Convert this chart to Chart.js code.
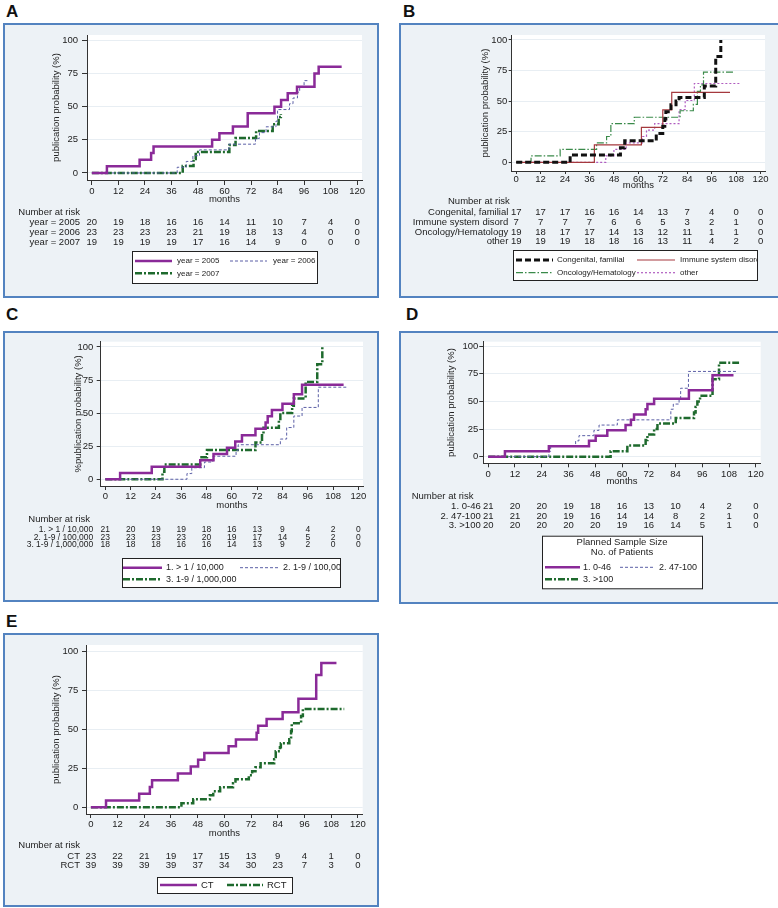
<!DOCTYPE html>
<html>
<head>
<meta charset="utf-8">
<script src="https://cdn.jsdelivr.net/npm/chart.js@4.4.1/dist/chart.umd.min.js"></script>
<style>
  html, body { margin: 0; padding: 0; background: #fff; overflow: hidden; }
  body { width: 778px; height: 908px; position: relative; font-family: "Liberation Sans", Arial, sans-serif; }
  .tag { position: absolute; font-weight: bold; font-size: 17px; line-height: 17px; color: #111; }
  canvas { position: absolute; }
</style>
</head>
<body>
<div class="tag" style="left:6px;top:3px">A</div>
<div class="tag" style="left:403px;top:3px">B</div>
<div class="tag" style="left:6px;top:306px">C</div>
<div class="tag" style="left:406px;top:306px">D</div>
<div class="tag" style="left:6px;top:613px">E</div>

<canvas id="chartA" width="376" height="275" style="left:3px;top:23px"></canvas>
<canvas id="chartB" width="382" height="275" style="left:399px;top:23px"></canvas>
<canvas id="chartC" width="376" height="271" style="left:3px;top:331px"></canvas>
<canvas id="chartD" width="382" height="273" style="left:399px;top:331px"></canvas>
<canvas id="chartE" width="376" height="274" style="left:3px;top:633px"></canvas>

<script>
// axis ticks
const monthTicks = [0, 12, 24, 36, 48, 60, 72, 84, 96, 108, 120];
const probTicks = [0, 25, 50, 75, 100];

// A - year of study start
const namesA = ['year = 2005', 'year = 2006', 'year = 2007'];
const a2005T = [0, 6.8, 21.6, 26.8, 27.9, 54.4, 57.7, 63.8, 70.5, 82.6, 85.6, 88.6, 92.8, 100.7, 102.6, 113];
const a2005V = [0, 5, 10, 15, 20, 25, 30, 35, 45, 50, 55, 60, 65, 75, 80, 80];
const a2006T = [0, 38.6, 42.7, 45.7, 48.7, 62, 74, 75.8, 78.8, 83.3, 84, 89.4, 91, 93, 94, 96, 97.5];
const a2006V = [0, 4.3, 8.7, 13, 17.4, 21.7, 26.1, 30.4, 34.8, 39.1, 47.8, 52.2, 56.5, 60.9, 65.2, 69.6, 69.6];
const a2007T = [0, 41.1, 46, 47, 62.2, 65, 74.3, 81.8, 84.5, 85.5];
const a2007V = [0, 5.3, 10.5, 15.8, 21.1, 26.3, 31.6, 36.8, 42.1, 44.2];
const riskA2005 = [20, 19, 18, 16, 16, 14, 11, 10, 7, 4, 0];
const riskA2006 = [23, 23, 23, 23, 21, 19, 18, 13, 4, 0, 0];
const riskA2007 = [19, 19, 19, 19, 17, 16, 14, 9, 0, 0, 0];

// B - disease area
const namesB = ['Congenital, familial', 'Immune system disord', 'Oncology/Hematology', 'other'];
const bCongT = [0, 26.5, 51.2, 53.3, 68.8, 72, 73, 73.5, 76, 78.5, 80, 92.4, 98, 100.5];
const bCongV = [0, 5.9, 11.8, 17.6, 23.5, 29.4, 35.3, 41.2, 47.1, 50, 52.9, 62.4, 86.4, 100];
const bImmT = [0, 38.4, 61.5, 72, 76.4, 105];
const bImmV = [0, 14.3, 28.6, 42.9, 57.1, 57.1];
const bOncT = [0, 7.3, 21.6, 39.5, 44.4, 46.5, 58, 80.5, 87, 89, 90.5, 92, 107];
const bOncV = [0, 5.3, 10.5, 15.8, 21.1, 31.6, 36.8, 42.1, 47.4, 57.9, 63.2, 73.7, 73.7];
const bOthT = [0, 44, 48, 54, 62, 64, 68, 80, 83, 87.5, 110];
const bOthV = [0, 5.3, 10.5, 15.8, 21.1, 26.3, 31.6, 43, 50.5, 64.4, 64.4];
const riskBCong = [17, 17, 17, 16, 16, 14, 13, 7, 4, 0, 0];
const riskBImm = [7, 7, 7, 7, 6, 6, 5, 3, 2, 1, 0];
const riskBOnc = [19, 18, 17, 17, 14, 13, 12, 11, 1, 1, 0];
const riskBOth = [19, 19, 19, 18, 18, 16, 13, 11, 4, 2, 0];

// C - prevalence
const namesC = ['1. > 1 / 10,000', '2. 1-9 / 100,000', '3. 1-9 / 1,000,000'];
const c1T = [0, 7, 22, 45, 51.3, 57.7, 61.6, 64.8, 71.2, 76, 77, 79, 84, 89.4, 93.3, 113];
const c1V = [0, 4.8, 9.5, 14.3, 19, 23.8, 28.6, 33.3, 38.1, 42.9, 47.6, 52.4, 57.1, 64.3, 71.4, 71.4];
const c2T = [0, 38.7, 41, 47, 51, 62, 63, 83, 86, 89.4, 93.3, 101, 114.7];
const c2V = [0, 4.3, 8.7, 13, 17.4, 21.7, 26.1, 30.4, 39.1, 47.8, 54.3, 69.6, 69.6];
const c3T = [0, 27.1, 28, 45, 48.2, 71.2, 74.3, 75, 82.3, 83, 88.6, 89.4, 95, 100.5, 102.9];
const c3V = [0, 5.6, 11.1, 16.7, 22.2, 27.8, 33.3, 38.9, 44.4, 50, 55.6, 61.1, 73.6, 87, 100];
const riskC1 = [21, 20, 19, 19, 18, 16, 13, 9, 4, 2, 0];
const riskC2 = [23, 23, 23, 23, 20, 19, 17, 14, 5, 2, 0];
const riskC3 = [18, 18, 18, 16, 16, 14, 13, 9, 2, 0, 0];

// D - planned sample size
const namesD = ['1. 0-46', '2. 47-100', '3. >100'];
const d1T = [0, 7.5, 27.2, 45.2, 48.2, 53.4, 61.6, 64, 65.4, 70.6, 71.4, 74.4, 90, 100.6, 110];
const d1V = [0, 4.8, 9.5, 14.3, 19, 23.8, 28.6, 33.3, 38.1, 42.9, 47.6, 52.4, 60, 73.6, 73.6];
const d2T = [0, 27.2, 28, 39.2, 40.7, 47.4, 49.7, 57.9, 81.9, 83, 85.6, 86.3, 89.8, 111.8];
const d2V = [0, 4.8, 9.5, 14.3, 19, 23.8, 28.6, 33.3, 42.9, 47.6, 52.4, 61.9, 77.1, 77.1];
const d3T = [0, 54.9, 62.4, 70.6, 71.4, 74.4, 75.9, 84.1, 92.3, 93, 93.8, 95, 100.6, 103.5, 112.5];
const d3V = [0, 5, 10, 15, 20, 25, 30, 35, 40, 45, 50, 55, 70, 85, 85];
const riskD1 = [21, 20, 20, 19, 18, 16, 13, 10, 4, 2, 0];
const riskD2 = [21, 21, 20, 19, 16, 14, 14, 8, 2, 1, 0];
const riskD3 = [20, 20, 20, 20, 20, 19, 16, 14, 5, 1, 0];

// E - study design
const namesE = ['CT', 'RCT'];
const eCtT = [0, 6.8, 21.7, 26.5, 27.5, 39.1, 44.9, 48.2, 51, 61.9, 65.2, 74.5, 75.2, 79, 86.2, 93.3, 101.3, 103.6, 110.4];
const eCtV = [0, 4.3, 8.7, 13, 17.4, 21.7, 26.1, 30.4, 34.8, 39.1, 43.5, 47.8, 52.2, 56.5, 60.9, 69.6, 84.8, 92.4, 92.4];
const eRctT = [0, 40.7, 46, 53.5, 55, 58.1, 63.9, 65, 71, 72.5, 74, 76.3, 82.4, 83.1, 85, 85.4, 89.2, 90, 90.3, 94.5, 95.3, 113.9];
const eRctV = [0, 2.6, 5.1, 7.7, 10.3, 12.8, 15.4, 17.9, 20.5, 23.1, 25.6, 28.2, 30.8, 35.9, 38.5, 41, 43.6, 48.7, 53.8, 58.5, 63, 63];
const riskECt = [23, 22, 21, 19, 17, 15, 13, 9, 4, 1, 0];
const riskERct = [39, 39, 39, 39, 37, 34, 30, 23, 7, 3, 0];

const FONT = '"Liberation Sans", Arial, sans-serif';
const purple = { color: '#8a2a98', width: 2.5, dash: [] };
const blueDash = { color: '#5b5fa6', width: 1, dash: [3, 2] };
const greenDashDot = { color: '#1e6a2d', width: 2.5, dash: [7, 2, 2, 2] };

// background, plot area, risk table and legend
const panelDecor = {
  id: 'panelDecor',
  beforeDraw(chart) {
    const ctx = chart.ctx, a = chart.chartArea;
    ctx.save();
    ctx.fillStyle = '#edf2f6';
    ctx.fillRect(0, 0, chart.width, chart.height);
    ctx.strokeStyle = '#5383c0';
    ctx.lineWidth = 2;
    ctx.strokeRect(1, 1, chart.width - 2, chart.height - 2);
    ctx.fillStyle = '#ffffff';
    ctx.fillRect(a.left, a.top, a.right - a.left, a.bottom - a.top);
    ctx.restore();
  },
  afterDraw(chart, args, o) {
    const ctx = chart.ctx;
    const xs = chart.scales.x;
    const names = chart.data.datasets.map(d => d.label);
    ctx.save();
    ctx.fillStyle = '#222';
    ctx.textBaseline = 'middle';
    ctx.font = '9.5px ' + FONT;

    // number at risk
    ctx.textAlign = 'left';
    ctx.fillText('Number at risk', o.riskTitle[0], o.riskTitle[1]);
    ctx.font = (o.rowFont || 9.5) + 'px ' + FONT;
    o.riskRows.forEach((y, i) => {
      ctx.textAlign = 'right';
      ctx.fillText(names[i], o.riskLabelX, y);
      ctx.textAlign = 'center';
      o.counts[i].forEach((n, k) => {
        ctx.fillText(String(n), xs.getPixelForValue(monthTicks[k]), y);
      });
    });

    // legend box
    const [bx, by, bw, bh] = o.legendBox;
    ctx.fillStyle = '#ffffff';
    ctx.fillRect(bx, by, bw, bh);
    ctx.strokeStyle = '#222';
    ctx.lineWidth = 1;
    ctx.strokeRect(bx + 0.5, by + 0.5, bw, bh);
    ctx.beginPath();
    ctx.rect(bx, by, bw, bh);
    ctx.clip();
    ctx.fillStyle = '#222';
    if (o.legendHeader) {
      ctx.font = '9.5px ' + FONT;
      ctx.textAlign = 'center';
      o.legendHeader.forEach(h => ctx.fillText(h[0], bx + bw / 2, h[1]));
    }
    ctx.font = o.legendFont + 'px ' + FONT;
    ctx.textAlign = 'left';
    o.legendItems.forEach((it, i) => {
      const ds = chart.data.datasets[i];
      ctx.save();
      ctx.strokeStyle = ds.borderColor;
      ctx.lineWidth = ds.borderWidth;
      ctx.setLineDash(ds.borderDash);
      ctx.beginPath();
      ctx.moveTo(it[0], it[3]);
      ctx.lineTo(it[1], it[3]);
      ctx.stroke();
      ctx.restore();
      ctx.fillText(names[i], it[2], it[3]);
    });
    ctx.restore();
  }
};

function drawPanel(p) {
  const canvas = document.getElementById(p.id);
  const W = canvas.width, H = canvas.height, a = p.area;
  const half = 9.5 * 1.2 / 2;
  const padLeft = p.yTitleX - half;
  const xAxisH = p.monthsY + half - a.bottom;
  const datasets = p.series.map((s, i) => ({
    label: p.names[i],
    data: s[0].map((t, k) => ({ x: t, y: s[1][k] })),
    stepped: 'before',
    borderColor: p.styles[i].color,
    borderWidth: p.styles[i].width,
    borderDash: p.styles[i].dash,
    pointRadius: 0,
    fill: false
  }));
  const font = { family: FONT, size: 9.5 };

  new Chart(canvas, {
    type: 'line',
    data: { datasets: datasets },
    options: {
      responsive: false,
      animation: false,
      events: [],
      layout: {
        padding: { left: padLeft, right: W - a.right, top: a.top, bottom: H - a.bottom - xAxisH }
      },
      scales: {
        x: {
          type: 'linear',
          min: -2.2,
          max: 122.2,
          afterBuildTicks: ax => { ax.ticks = monthTicks.map(v => ({ value: v })); },
          afterFit: ax => { ax.height = xAxisH; },
          grid: { drawOnChartArea: false, tickLength: p.xTick[0], color: '#333' },
          border: { color: '#333', width: 1 },
          ticks: { padding: p.xTick[1], font: font, color: '#222', maxRotation: 0 },
          title: { display: true, text: 'months', padding: 0, font: font, color: '#222' }
        },
        y: {
          min: p.yMin,
          max: 104,
          afterBuildTicks: ax => { ax.ticks = probTicks.map(v => ({ value: v })); },
          afterFit: ax => { ax.width = a.left - padLeft; },
          grid: { color: '#e8eef3', tickColor: '#333', tickLength: p.yTick[0] },
          border: { color: '#333', width: 1 },
          ticks: { padding: p.yTick[1], font: font, color: '#222' },
          title: { display: true, text: p.yTitle, padding: 0, font: font, color: '#222' }
        }
      },
      plugins: {
        legend: { display: false },
        tooltip: { enabled: false },
        panelDecor: p.decor
      }
    },
    plugins: [panelDecor]
  });
}

drawPanel({
  id: 'chartA',
  names: namesA,
  series: [[a2005T, a2005V], [a2006T, a2006V], [a2007T, a2007V]],
  styles: [purple, blueDash, greenDashDot],
  area: { left: 84, right: 359, top: 12, bottom: 157 },
  yMin: -5.3, yTitleX: 53.7, yTitle: 'publication probability (%)',
  xTick: [5, 1], yTick: [5, 4], monthsY: 176.3,
  decor: {
    riskTitle: [15.3, 189.7], riskLabelX: 77, riskRows: [199.3, 209.7, 219.7],
    counts: [riskA2005, riskA2006, riskA2007],
    legendBox: [129, 228, 185, 32], legendFont: 8,
    legendItems: [[132, 169, 174, 238], [227, 264, 270, 238], [132, 169, 174, 250.3]]
  }
});

drawPanel({
  id: 'chartB',
  names: namesB,
  series: [[bCongT, bCongV], [bImmT, bImmV], [bOncT, bOncV], [bOthT, bOthV]],
  styles: [
    { color: '#111111', width: 3, dash: [6, 3] },
    { color: '#a5393e', width: 1.2, dash: [] },
    { color: '#3a8a4a', width: 1.2, dash: [7, 2, 1.5, 2] },
    { color: '#b05cc0', width: 1.2, dash: [2, 2] }
  ],
  area: { left: 112.7, right: 366, top: 12, bottom: 148 },
  yMin: -7.1, yTitleX: 86, yTitle: 'publication probability (%)',
  xTick: [3, 0], yTick: [3, 1.5], monthsY: 162,
  decor: {
    riskTitle: [49, 178.7], riskLabelX: 109.3, riskRows: [189.7, 199.3, 209.3, 218.7],
    counts: [riskBCong, riskBImm, riskBOnc, riskBOth],
    legendBox: [114, 227, 244, 30], legendFont: 8,
    legendItems: [[117, 154, 158, 237], [238, 276, 281, 237], [117, 154, 158, 249.7], [238, 276, 281, 249.7]]
  }
});

drawPanel({
  id: 'chartC',
  names: namesC,
  series: [[c1T, c1V], [c2T, c2V], [c3T, c3V]],
  styles: [purple, blueDash, greenDashDot],
  area: { left: 97.7, right: 360, top: 10.7, bottom: 155 },
  yMin: -5.1, yTitleX: 75.3, yTitle: '%publication probability (%)',
  xTick: [4, 1], yTick: [4, 3.4], monthsY: 174,
  decor: {
    riskTitle: [25.3, 188.3], riskLabelX: 90.3, riskRows: [198.7, 206.4, 213.8], rowFont: 8.5,
    counts: [riskC1, riskC2, riskC3],
    legendBox: [119, 227, 218, 29], legendFont: 9,
    legendItems: [[120, 159, 163, 236.7], [237, 275, 280, 236.7], [120, 159, 163, 248.3]]
  }
});

drawPanel({
  id: 'chartD',
  names: namesD,
  series: [[d1T, d1V], [d2T, d2V], [d3T, d3V]],
  styles: [purple, blueDash, greenDashDot],
  area: { left: 84.3, right: 361.7, top: 10.7, bottom: 132.3 },
  yMin: -6, yTitleX: 52.7, yTitle: 'publication probability (%)',
  xTick: [4, 1], yTick: [4, 1], monthsY: 150.7,
  decor: {
    riskTitle: [12.7, 165.7], riskLabelX: 81.7, riskRows: [175.7, 185, 194],
    counts: [riskD1, riskD2, riskD3],
    legendBox: [143, 204.7, 160, 52.6], legendFont: 9,
    legendHeader: [['Planned Sample Size', 211.7], ['No. of Patients', 221.7]],
    legendItems: [[146, 181, 184, 236.3], [221, 254, 260, 236.3], [146, 181, 184, 248.3]]
  }
});

drawPanel({
  id: 'chartE',
  names: namesE,
  series: [[eCtT, eCtV], [eRctT, eRctV]],
  styles: [purple, greenDashDot],
  area: { left: 83, right: 359.7, top: 12, bottom: 181 },
  yMin: -4.3, yTitleX: 53.7, yTitle: 'publication probability (%)',
  xTick: [4, 0.6], yTick: [4, 3.7], monthsY: 200.3,
  decor: {
    riskTitle: [15.3, 212], riskLabelX: 77, riskRows: [223.7, 232],
    counts: [riskECt, riskERct],
    legendBox: [154, 244, 135, 16], legendFont: 9.5,
    legendItems: [[157, 194, 198, 252], [224, 260, 264, 252]]
  }
});
</script>
</body>
</html>
